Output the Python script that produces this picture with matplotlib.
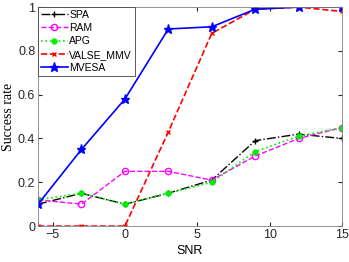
import numpy as np
import matplotlib
matplotlib.use("Agg")
import matplotlib.pyplot as plt

plt.rcParams['font.family'] = ['Liberation Sans', 'DejaVu Sans']

snr = [-6, -3, 0, 3, 6, 9, 12, 15]
spa = [0.10, 0.15, 0.10, 0.15, 0.21, 0.39, 0.42, 0.40]
ram = [0.12, 0.10, 0.25, 0.25, 0.21, 0.32, 0.40, 0.45]
apg = [0.12, 0.15, 0.10, 0.15, 0.20, 0.34, 0.41, 0.45]
valse = [0.0, 0.0, 0.0, 0.43, 0.88, 0.99, 1.0, 0.98]
mvesa = [0.10, 0.35, 0.58, 0.90, 0.91, 0.99, 1.0, 1.0]

fig = plt.figure(figsize=(3.49, 2.62), dpi=100)
ax = fig.add_axes([0.109, 0.137, 0.871, 0.836])

ax.plot(snr, spa, color='black', ls='-.', lw=1, marker='+', ms=4, label='SPA')
ax.plot(snr, ram, color='magenta', ls='--', lw=1, marker='o', ms=4.5,
        mfc='none', label='RAM')
ax.plot(snr, apg, color='#00ee00', ls=':', lw=1.2, marker='o', ms=3.5,
        label='APG')
ax.plot(snr, valse, color='red', ls='--', lw=1.2, marker='x', ms=3,
        label='VALSE_MMV')
ax.plot(snr, mvesa, color='blue', ls='-', lw=1.2, marker='*', ms=6.5,
        label='MVESA')

ax.set_xlim(-6, 15)
ax.set_ylim(0, 1)
ax.set_xticks([-5, 0, 5, 10, 15])
ax.set_yticks([0, 0.2, 0.4, 0.6, 0.8, 1])
ax.set_yticklabels(['0', '0.2', '0.4', '0.6', '0.8', '1'])
ax.tick_params(direction='in', labelsize=9, colors='#262626', length=3,
               top=True, right=True, labeltop=False, labelright=False, pad=2)
for s in ax.spines.values():
    s.set_color('#808080')
    s.set_linewidth(0.6)

ax.set_xlabel('SNR', fontsize=9, labelpad=3)
ax.set_ylabel('Success rate', fontsize=10, family='Liberation Serif', labelpad=2)

leg = ax.legend(loc='upper left', fontsize=7.5, frameon=True, fancybox=False,
                borderaxespad=0, handlelength=2.6, labelspacing=0.32,
                borderpad=0.25, handletextpad=0.15)
leg.get_frame().set_edgecolor('#404040')
leg.get_frame().set_linewidth(0.6)
leg.get_frame().set_alpha(1)

fig.savefig('out.png', dpi=100)
